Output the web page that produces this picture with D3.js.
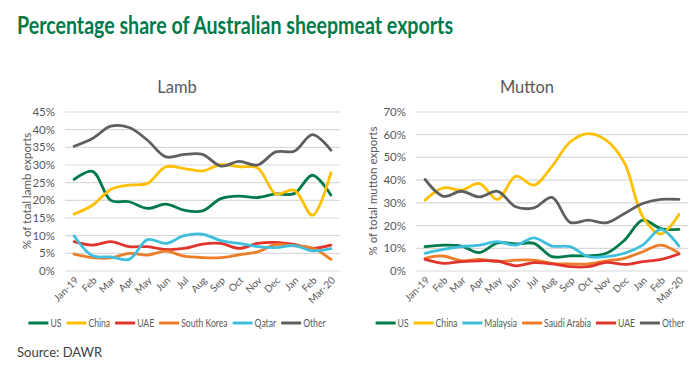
<!DOCTYPE html>
<html>
<head>
<meta charset="utf-8">
<script src="https://cdn.jsdelivr.net/npm/d3@7"></script>
<style>
  body { margin: 0; background: #fff; }
  svg { display: block; font-family: Lato, "Open Sans", sans-serif; }
</style>
</head>
<body>
<svg id="chart" width="700" height="370"></svg>
<script>
// month labels shared by both panels
var months = ["Jan-19", "Feb", "Mar", "Apr", "May", "Jun", "Jul", "Aug", "Sep", "Oct", "Nov", "Dec", "Jan", "Feb", "Mar-20"]

// lamb, % share
var lambUS     = [25.9, 28.2, 20.0, 19.6, 17.7, 18.9, 17.2, 17.0, 20.5, 21.2, 20.8, 21.8, 21.9, 27.1, 21.5]
var lambChina  = [16.1, 18.6, 23.1, 24.3, 24.8, 29.5, 29.0, 28.3, 30.1, 29.5, 29.2, 21.8, 22.9, 15.8, 27.8]
var lambUAE    = [8.3, 7.3, 8.3, 6.9, 6.9, 6.1, 6.4, 7.6, 7.8, 6.4, 7.8, 8.1, 7.5, 6.4, 7.3]
var lambKorea  = [4.8, 3.8, 3.7, 5.0, 4.5, 5.6, 4.2, 3.8, 3.8, 4.6, 5.4, 7.5, 7.1, 6.5, 3.3]
var lambQatar  = [9.9, 4.3, 4.0, 3.3, 8.9, 7.8, 10.0, 10.4, 8.6, 7.8, 6.9, 6.6, 7.2, 5.7, 6.3]
var lambOther  = [35.3, 37.5, 41.0, 40.6, 37.0, 32.3, 33.0, 33.0, 29.7, 31.0, 30.0, 33.7, 33.9, 38.6, 34.2]

// mutton, % share
var muttonUS       = [10.7, 11.4, 11.0, 8.1, 12.4, 11.9, 12.2, 6.3, 6.7, 6.7, 7.8, 13.6, 22.4, 18.7, 18.3]
var muttonChina    = [31.2, 36.6, 35.6, 38.5, 31.5, 41.7, 37.8, 46.1, 56.8, 60.5, 57.5, 47.5, 24.0, 16.3, 24.9]
var muttonMalaysia = [7.8, 9.5, 10.7, 11.4, 12.9, 11.4, 14.6, 11.0, 10.7, 6.3, 6.3, 7.8, 11.4, 18.3, 11.0]
var muttonSaudi    = [5.6, 6.6, 4.5, 5.1, 4.1, 4.8, 4.8, 3.4, 3.1, 3.1, 4.5, 5.6, 8.5, 11.4, 7.8]
var muttonUAE      = [5.1, 3.4, 4.1, 4.5, 4.4, 2.3, 3.7, 3.1, 1.9, 1.9, 3.8, 2.9, 4.1, 5.1, 7.5]
var muttonOther    = [40.3, 32.9, 35.1, 32.6, 35.1, 28.3, 27.8, 32.4, 21.4, 22.4, 21.2, 25.3, 29.7, 31.5, 31.5]

var lambTicks = [0, 5, 10, 15, 20, 25, 30, 35, 40, 45]
var muttonTicks = [0, 10, 20, 30, 40, 50, 60, 70]

var colors = {
    US: "#007a4a", China: "#ffc000", UAE: "#e0342c", "South Korea": "#ee7d2a",
    Qatar: "#3fbfdc", Malaysia: "#3fbfdc", "Saudi Arabia": "#ee7d2a", Other: "#5f5f5f"
}

var svg = d3.select("#chart")

// Calibri in the original is narrow, so squeeze the heading to its width
svg.append("text")
    .attr("x", 17).attr("y", 34)
    .attr("fill", "#007a4a")
    .attr("font-size", 24).attr("font-weight", "bold")
    .attr("textLength", 436)
    .attr("lengthAdjust", "spacingAndGlyphs")
    .text("Percentage share of Australian sheepmeat exports")

svg.append("text")
    .attr("x", 17).attr("y", 357)
    .attr("fill", "#404040")
    .attr("font-size", 13)
    .text("Source: DAWR")

function drawPanel(opts) {
    var g = svg.append("g")

    var x = d3.scalePoint()
        .domain(d3.range(months.length))
        .range([opts.left, opts.right])
        .padding(0.5)

    var y = d3.scaleLinear()
        .domain([0, opts.max])
        .range([271, 112])

    // panel title
    g.append("text")
        .attr("x", opts.titleX).attr("y", 93)
        .attr("text-anchor", "middle")
        .attr("fill", "#595959")
        .attr("font-size", 16.5)
        .text(opts.title)

    // gridlines
    g.selectAll(".grid")
        .data(opts.ticks)
        .enter()
        .append("line")
        .attr("x1", opts.left).attr("x2", opts.right)
        .attr("y1", function(d) { return y(d) })
        .attr("y2", function(d) { return y(d) })
        .attr("stroke", "#d9d9d9")
        .attr("stroke-width", 1.2)

    // y tick labels
    g.selectAll(".ylab")
        .data(opts.ticks)
        .enter()
        .append("text")
        .attr("x", opts.left - 10)
        .attr("y", function(d) { return y(d) })
        .attr("dy", "0.35em")
        .attr("text-anchor", "end")
        .attr("fill", "#595959")
        .attr("font-size", 11.5)
        .text(function(d) { return d + "%" })

    // y axis title
    g.append("text")
        .attr("transform", "translate(" + opts.yTitleX + ",191) rotate(-90)")
        .attr("text-anchor", "middle")
        .attr("fill", "#595959")
        .attr("font-size", 11.5)
        .text(opts.yTitle)

    // x tick labels
    g.selectAll(".xlab")
        .data(months)
        .enter()
        .append("text")
        .attr("transform", function(d, i) {
            return "translate(" + (x(i) + 5) + ",281) rotate(-45)"
        })
        .attr("text-anchor", "end")
        .attr("fill", "#595959")
        .attr("font-size", 10)
        .text(function(d) { return d })

    var line = d3.line()
        .x(function(d, i) { return x(i) })
        .y(function(d) { return y(d) })
        .curve(d3.curveCatmullRom.alpha(0.5))

    g.selectAll(".series")
        .data(opts.series)
        .enter()
        .append("path")
        .attr("d", function(d) { return line(d.values) })
        .attr("fill", "none")
        .attr("stroke", function(d) { return colors[d.name] })
        .attr("stroke-width", 2.8)
        .attr("stroke-linejoin", "round")
        .attr("stroke-linecap", "round")

    // legend, laid out by measured (narrowed) text widths then centred
    var leg = g.append("g")
    var pos = 0
    opts.series.forEach(function(s) {
        var item = leg.append("g").attr("transform", "translate(" + pos + ",0)")
        item.append("line")
            .attr("x1", 0).attr("x2", 20)
            .attr("y1", 0).attr("y2", 0)
            .attr("stroke", colors[s.name])
            .attr("stroke-width", 3)
        var t = item.append("text")
            .attr("x", 22).attr("y", 0)
            .attr("dy", "0.35em")
            .attr("fill", "#595959")
            .attr("font-size", 10.5)
            .text(s.name)
        var w = t.node().getComputedTextLength() * 0.82
        t.attr("textLength", w).attr("lengthAdjust", "spacingAndGlyphs")
        pos += 22 + w + 5
    })
    leg.attr("transform", "translate(" + (opts.legendX - (pos - 5) / 2) + ",323)")
}

drawPanel({
    title: "Lamb", titleX: 177, left: 65, right: 340, max: 45,
    ticks: lambTicks, yTitle: "% of total lamb exports", yTitleX: 31, legendX: 177,
    series: [
        { name: "US", values: lambUS },
        { name: "China", values: lambChina },
        { name: "UAE", values: lambUAE },
        { name: "South Korea", values: lambKorea },
        { name: "Qatar", values: lambQatar },
        { name: "Other", values: lambOther }
    ]
})

drawPanel({
    title: "Mutton", titleX: 527, left: 416, right: 688, max: 70,
    ticks: muttonTicks, yTitle: "% of total mutton exports", yTitleX: 377, legendX: 530,
    series: [
        { name: "US", values: muttonUS },
        { name: "China", values: muttonChina },
        { name: "Malaysia", values: muttonMalaysia },
        { name: "Saudi Arabia", values: muttonSaudi },
        { name: "UAE", values: muttonUAE },
        { name: "Other", values: muttonOther }
    ]
})
</script>
</body>
</html>
